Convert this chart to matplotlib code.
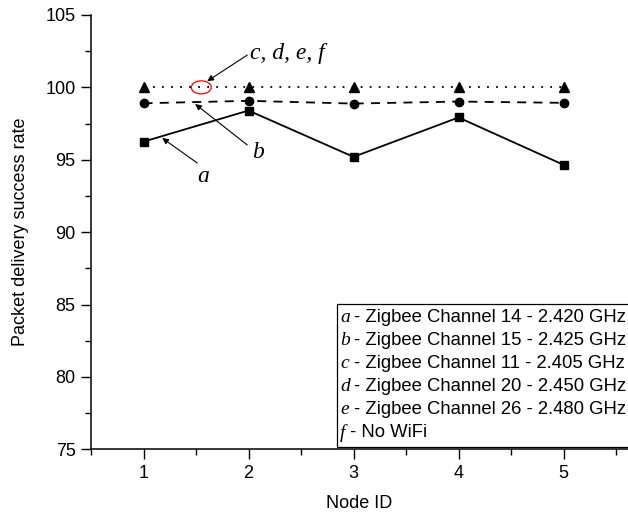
import matplotlib.pyplot as plt
from matplotlib.patches import Ellipse, Rectangle
from matplotlib.ticker import MultipleLocator

node_id = [1, 2, 3, 4, 5]
rate_a = [96.25, 98.4, 95.2, 97.92, 94.65]
rate_b = [98.9, 99.07, 98.88, 99.02, 98.93]
rate_cdef = [100.0, 100.0, 100.0, 100.0, 100.0]

legend_letters = ['a', 'b', 'c', 'd', 'e', 'f']
legend_texts = ['- Zigbee Channel 14 - 2.420 GHz',
                '- Zigbee Channel 15 - 2.425 GHz',
                '- Zigbee Channel 11 - 2.405 GHz',
                '- Zigbee Channel 20 - 2.450 GHz',
                '- Zigbee Channel 26 - 2.480 GHz',
                '- No WiFi']

sans = 'Liberation Sans'
serif = 'Liberation Serif'

fig = plt.figure(figsize=(6.28, 5.13), dpi=100)
ax = fig.add_axes([0.1449, 0.1242, 0.8551, 0.8466])

ax.plot(node_id, rate_a, color='black', lw=1.3, marker='s', ms=5.5)
ax.plot(node_id, rate_b, color='black', lw=1.3, ls=(0, (5, 4)), marker='o', ms=6)
ax.plot(node_id, rate_cdef, color='black', lw=1.3, ls=(0, (1, 4)), marker='^', ms=6.5)

ax.set_xlim(0.5, 5.614)
ax.set_ylim(75, 105)
ax.xaxis.set_major_locator(MultipleLocator(1))
ax.xaxis.set_minor_locator(MultipleLocator(0.5))
ax.yaxis.set_major_locator(MultipleLocator(5))
ax.yaxis.set_minor_locator(MultipleLocator(2.5))
ax.tick_params(which='major', direction='out', length=7, width=1, labelsize=13, pad=4)
ax.tick_params(which='minor', direction='out', length=4, width=1)
for lab in ax.get_xticklabels() + ax.get_yticklabels():
    lab.set_fontfamily(sans)
ax.spines['top'].set_visible(False)
ax.spines['right'].set_visible(False)
ax.spines['left'].set_linewidth(1.1)
ax.spines['bottom'].set_linewidth(1.1)

ax.set_xlabel('Node ID', fontsize=13, family=sans, labelpad=10)
ax.set_ylabel('Packet delivery success rate', fontsize=13, family=sans, labelpad=12)

# annotations
arrow = dict(arrowstyle='-|>', color='black', lw=0.8, mutation_scale=9, shrinkA=0, shrinkB=0)
ax.annotate('', xy=(1.607, 100.43), xytext=(1.988, 102.23), arrowprops=arrow)
ax.text(2.015, 102.37, 'c, d, e, f', family=serif, style='italic', fontsize=17,
        ha='left', va='center')
ax.annotate('', xy=(1.492, 98.85), xytext=(1.988, 96.02), arrowprops=arrow)
ax.text(2.092, 95.47, 'b', family=serif, style='italic', fontsize=17, ha='center', va='center')
ax.annotate('', xy=(1.178, 96.5), xytext=(1.511, 94.78), arrowprops=arrow)
ax.text(1.569, 93.81, 'a', family=serif, style='italic', fontsize=17, ha='center', va='center')
ax.add_patch(Ellipse((1.55, 100.0), 0.19, 0.9, fill=False, edgecolor='red', lw=0.9))

# legend box
ax.add_patch(Rectangle((0.458, 0.006), 0.6, 0.3286, transform=ax.transAxes, fill=False,
                       edgecolor='black', lw=0.9, clip_on=False))
row_y = [0.3023, 0.2494, 0.1964, 0.1435, 0.0905, 0.0376]
text_x = [0.4898, 0.4898, 0.4898, 0.4898, 0.4898, 0.4830]
for letter, txt, y, tx in zip(legend_letters, legend_texts, row_y, text_x):
    ax.text(0.4637, y, letter, transform=ax.transAxes, family=serif, style='italic',
            fontsize=14, ha='left', va='center')
    ax.text(tx, y, txt, transform=ax.transAxes, family=sans, fontsize=13.3,
            ha='left', va='center')

fig.savefig('out.png', dpi=100)
